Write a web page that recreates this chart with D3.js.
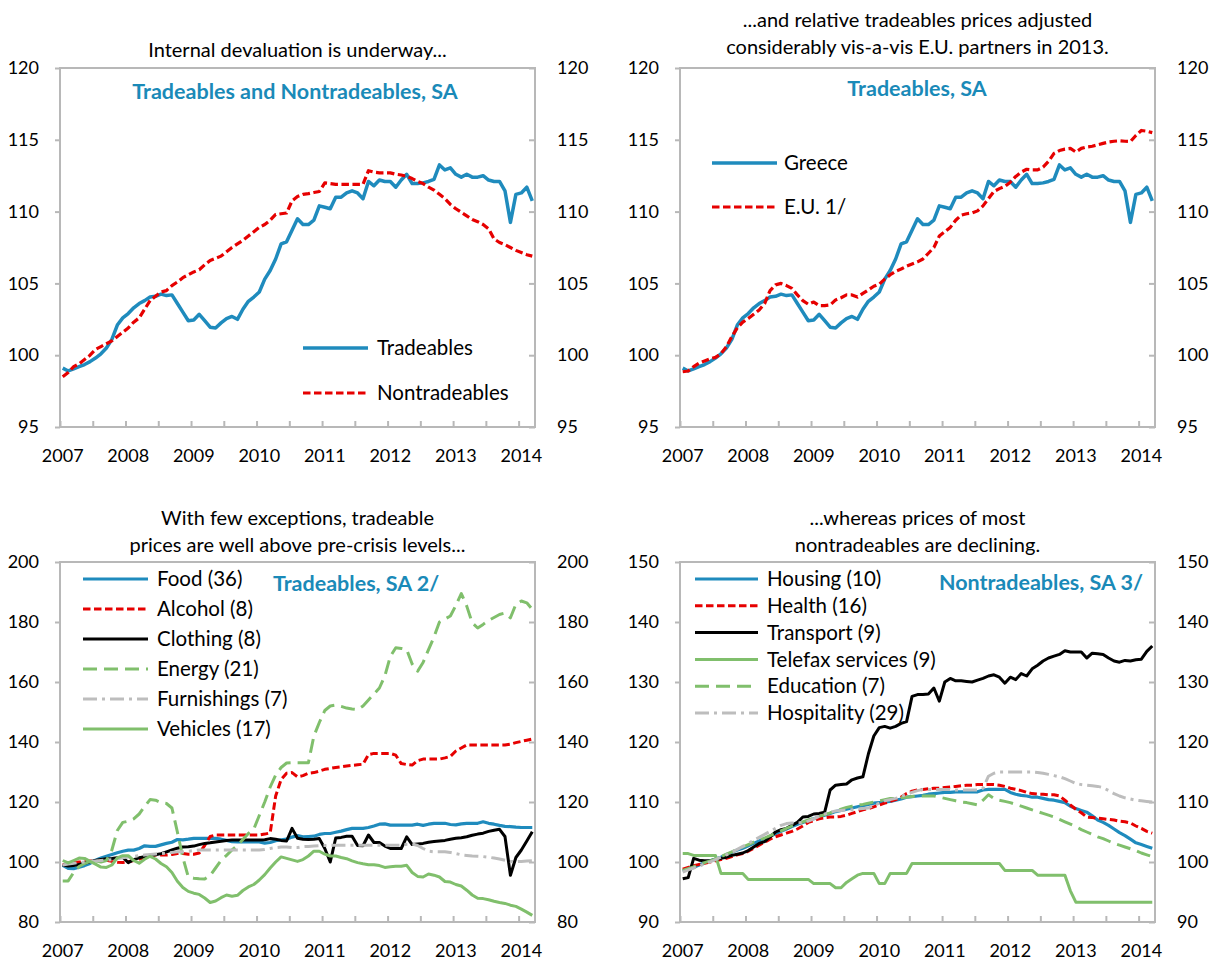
<!DOCTYPE html>
<html>
<head>
<meta charset="utf-8">
<script src="https://cdn.jsdelivr.net/npm/d3@7"></script>
<style>
  body { margin: 0; background: #fff; }
  text { font-family: Lato, "Open Sans", sans-serif; fill: #000; }
</style>
</head>
<body>
<svg id="chart" width="1215" height="964"></svg>
<script>
// monthly data, Jan 2007 - Mar 2014 (87 months)
const yearLabels = ["2007", "2008", "2009", "2010", "2011", "2012", "2013", "2014"];

const tradeables = [
  99.1, 98.9, 99.05, 99.2, 99.35, 99.55, 99.8, 100.1, 100.5, 101.1,
  102.1, 102.6, 102.9, 103.3, 103.6, 103.8, 104.05, 104.1, 104.25, 104.15,
  104.2, 103.6, 103.0, 102.4, 102.45, 102.85, 102.4, 101.95, 101.9, 102.25,
  102.55, 102.7, 102.5, 103.2, 103.75, 104.05, 104.4, 105.3, 105.9, 106.7,
  107.75, 107.9, 108.7, 109.5, 109.1, 109.1, 109.4, 110.4, 110.3, 110.2,
  111.0, 111.0, 111.3, 111.45, 111.3, 110.9, 112.1, 111.8, 112.2, 112.1,
  112.1, 111.7, 112.2, 112.6, 111.95, 111.95, 112.0, 112.1, 112.25, 113.25,
  112.9, 113.05, 112.6, 112.4, 112.6, 112.4, 112.4, 112.5, 112.2, 112.1,
  112.1, 111.45, 109.25, 111.2, 111.3, 111.7, 110.75
];
const nontradeables = [
  98.5, 98.8, 99.2, 99.4, 99.7, 100.0, 100.4, 100.6, 100.8, 101.0,
  101.3, 101.6, 101.9, 102.3, 102.6, 103.2, 103.8, 104.1, 104.4, 104.5,
  104.85, 105.1, 105.4, 105.6, 105.8, 105.95, 106.3, 106.6, 106.75, 106.9,
  107.2, 107.5, 107.75, 108.0, 108.3, 108.6, 108.9, 109.1, 109.4, 109.8,
  109.85, 109.9, 110.75, 111.05, 111.2, 111.25, 111.33, 111.4, 112.0, 111.95,
  111.9, 111.9, 111.9, 111.9, 111.9, 111.9, 112.85, 112.75, 112.7, 112.7,
  112.7, 112.6, 112.55, 112.45, 112.3, 112.1, 111.95, 111.7, 111.5, 111.2,
  110.9, 110.5, 110.2, 109.95, 109.7, 109.45, 109.3, 109.1, 108.8, 108.1,
  107.85, 107.7, 107.5, 107.3, 107.15, 107.0, 106.9
];
const euTradeables = [
  98.85, 98.9, 99.2, 99.45, 99.6, 99.75, 99.85, 100.1, 100.6, 101.3,
  101.9, 102.3, 102.55, 102.85, 103.15, 103.6, 104.5, 104.9, 105.0, 104.85,
  104.65, 104.2, 103.8, 103.55, 103.7, 103.45, 103.45, 103.5, 103.85, 104.0,
  104.2, 104.2, 104.05, 104.3, 104.55, 104.8, 104.95, 105.3, 105.6, 105.85,
  106.0, 106.2, 106.35, 106.5, 106.7, 107.1, 107.5, 108.3, 108.6, 108.9,
  109.4, 109.75, 109.85, 109.9, 110.05, 110.4, 110.9, 111.4, 111.6, 111.75,
  112.05, 112.45, 112.75, 112.95, 112.9, 112.9, 113.1, 113.5, 114.05, 114.25,
  114.35, 114.4, 114.15, 114.4, 114.5, 114.55, 114.65, 114.75, 114.85, 114.9,
  114.93, 114.9, 114.88, 115.3, 115.65, 115.6, 115.5
];

// tradeable components
const food = [
  98.9, 97.9, 97.8, 98.3, 98.8, 99.5, 100.6, 101.3, 101.9, 102.5,
  103.1, 103.6, 103.95, 103.95, 104.5, 105.4, 105.2, 105.2, 105.7, 106.2,
  106.6, 107.5, 107.4, 107.6, 107.85, 107.85, 107.85, 107.85, 107.85, 107.6,
  107.2, 106.8, 106.7, 106.7, 106.7, 106.7, 106.7, 106.3, 106.5, 107.1,
  107.4, 107.6, 108.3, 108.8, 108.4, 108.5, 108.6, 109.2, 109.5, 109.5,
  109.9, 110.3, 110.8, 111.2, 111.2, 111.2, 111.5, 112.0, 112.6, 112.7,
  112.3, 112.3, 112.3, 112.3, 112.3, 112.6, 112.2, 112.6, 112.9, 112.9,
  112.9, 112.5, 112.4, 112.7, 112.9, 112.9, 112.9, 113.4, 112.9, 112.6,
  112.2, 111.9, 111.8, 111.6, 111.5, 111.5, 111.5
];
const alcohol = [
  99.0, 99.5, 99.8, 100.0, 100.1, 100.3, 100.5, 100.6, 100.6, 100.2,
  99.9, 99.8, 100.1, 100.5, 101.0, 101.5, 102.2, 102.3, 102.3, 102.3,
  102.5, 102.8, 102.8, 102.6, 102.6, 103.0, 105.5, 108.5, 109.0, 109.0,
  109.0, 109.0, 109.0, 109.0, 109.0, 109.0, 109.0, 109.3, 109.7, 122.0,
  127.5, 129.6, 129.8, 128.4, 128.8, 129.6, 129.8, 130.3, 130.9, 131.2,
  131.5, 131.7, 132.0, 132.2, 132.4, 132.6, 135.8, 136.2, 136.2, 136.2,
  136.2, 135.6, 132.8, 132.5, 132.3, 133.8, 134.3, 134.3, 134.3, 134.3,
  134.7, 135.2, 137.0, 138.0, 139.0, 139.0, 139.0, 139.0, 139.0, 139.0,
  139.0, 139.0, 139.3, 139.8, 140.2, 140.6, 141.0
];
const clothing = [
  99.0, 98.7, 98.8, 99.2, 99.6, 100.1, 100.5, 100.8, 101.1, 101.2,
  101.4, 101.6, 99.8, 100.8, 101.4, 101.8, 102.1, 102.4, 102.8, 103.4,
  104.0, 104.6, 105.0, 105.1, 105.3, 105.8, 106.2, 106.4, 106.7, 106.9,
  107.2, 107.3, 107.3, 107.3, 107.3, 107.3, 107.3, 107.4, 107.8, 107.6,
  107.2, 107.0, 111.2, 107.9, 107.6, 107.5, 107.6, 107.8, 104.5, 100.0,
  108.0, 108.2, 108.6, 108.6, 105.5, 105.4, 109.0, 106.5, 106.5, 105.3,
  104.5, 104.5, 104.5, 108.4, 105.8, 106.0, 106.2, 106.6, 106.8, 107.0,
  107.2, 107.6, 107.9, 108.1, 108.4, 108.9, 109.3, 109.6, 110.2, 110.6,
  110.9, 108.5, 95.6, 101.5, 104.0, 107.0, 110.1
];
const energy = [
  93.7, 93.7, 96.5, 98.5, 99.5, 100.2, 100.4, 100.0, 100.5, 104.0,
  110.5, 113.2, 113.6, 114.4, 116.0, 118.5, 120.8, 120.6, 119.8, 119.5,
  118.0, 110.0, 101.5, 95.0, 94.6, 94.4, 94.3, 95.5, 98.0, 100.5,
  102.2, 104.0, 105.5, 107.5, 109.5, 111.0, 115.5, 120.0, 125.0, 129.0,
  131.5, 133.0, 133.1, 133.1, 133.1, 133.1, 142.0, 146.5, 150.5, 152.0,
  152.3, 151.9, 151.3, 151.0, 150.8, 152.0, 154.0, 156.0, 158.0, 162.0,
  168.5, 171.4, 171.2, 170.8, 166.0, 163.6, 166.5, 170.8, 175.0, 180.0,
  181.0, 182.0, 185.5, 189.5, 185.3, 179.7, 178.0, 179.2, 180.5, 181.5,
  182.5, 183.0, 181.4, 185.9, 187.0, 186.4, 184.2
];
const furnishings = [
  99.0, 99.3, 99.6, 99.8, 100.0, 100.1, 100.3, 100.5, 100.6, 100.8,
  101.1, 101.4, 101.7, 101.9, 102.1, 102.3, 102.5, 102.7, 102.8, 103.0,
  103.2, 103.4, 103.4, 103.6, 103.8, 104.0, 104.0, 104.0, 104.0, 104.0,
  104.0, 104.0, 104.0, 104.0, 104.0, 104.0, 104.0, 104.2, 104.5, 104.8,
  105.0, 105.0, 104.8, 104.8, 105.1, 105.2, 105.3, 105.4, 105.5, 105.6,
  105.6, 105.6, 105.6, 105.6, 105.6, 105.6, 105.6, 105.6, 105.6, 105.6,
  105.6, 105.6, 105.6, 105.9, 106.0, 105.5, 104.5, 103.6, 103.4, 103.4,
  103.4, 103.2, 102.8, 102.4, 102.2, 102.0, 101.9, 101.8, 101.6, 101.3,
  101.0, 100.6, 100.2, 100.1, 100.2, 100.3, 100.4
];
const vehicles = [
  100.5, 99.7, 100.5, 101.3, 101.2, 100.2, 99.3, 98.3, 98.2, 99.0,
  101.4, 102.1, 102.1, 100.5, 99.6, 100.9, 101.9, 101.0, 99.5, 98.4,
  96.5, 93.6, 91.5, 90.2, 89.6, 89.2, 88.0, 86.5, 87.0, 88.1,
  89.0, 88.6, 88.9, 90.5, 91.7, 92.5, 94.0, 95.8, 98.0, 100.0,
  101.7, 101.2, 100.7, 100.2, 100.8, 102.0, 103.6, 103.6, 102.6, 102.0,
  102.0, 101.5, 101.1, 100.4, 99.8, 99.4, 99.1, 99.1, 98.8, 98.2,
  98.4, 98.6, 98.6, 98.9, 96.5, 95.2, 95.0, 96.0, 95.6, 95.0,
  93.5, 93.3, 92.5, 92.0, 90.6, 89.0, 87.9, 87.8, 87.4, 86.9,
  86.5, 86.2, 85.6, 85.2, 84.3, 83.3, 82.2
];

// nontradeable components
const housing = [
  98.5, 98.8, 99.1, 99.5, 99.9, 100.2, 100.5, 100.8, 101.2, 101.6,
  102.0, 102.3, 102.7, 103.1, 103.5, 103.9, 104.3, 104.7, 105.1, 105.5,
  105.9, 106.3, 106.6, 106.9, 107.2, 107.5, 107.8, 108.1, 108.4, 108.6,
  108.8, 109.0, 109.2, 109.4, 109.6, 109.8, 109.9, 110.0, 110.1, 110.3,
  110.5, 110.8, 110.9, 111.0, 111.1, 111.3, 111.4, 111.5, 111.6, 111.6,
  111.7, 111.7, 111.7, 111.7, 111.7, 112.0, 112.1, 112.1, 112.1, 112.1,
  111.6, 111.3, 111.1, 111.0, 110.8, 110.8, 110.6, 110.4, 110.3, 110.1,
  109.9, 109.3, 108.9, 108.6, 108.3, 107.7, 107.0, 106.6, 106.1, 105.5,
  104.9, 104.4, 103.8, 103.2, 102.9, 102.6, 102.3
];
const health = [
  98.8, 99.1, 99.4, 99.6, 99.8, 100.0, 100.2, 100.4, 100.6, 100.9,
  101.2, 101.4, 101.8, 102.3, 102.8, 103.3, 103.8, 104.2, 104.5, 104.8,
  105.1, 105.5, 106.0, 106.6, 106.9, 107.2, 107.4, 107.5, 107.5, 107.6,
  107.8, 108.1, 108.4, 108.7, 108.9, 109.2, 109.5, 109.8, 110.1, 110.4,
  110.8, 111.4, 111.8, 112.0, 112.1, 112.2, 112.3, 112.3, 112.4, 112.5,
  112.6, 112.7, 112.8, 112.8, 112.9, 112.9, 112.9, 112.9, 112.8, 112.6,
  112.3, 112.1, 111.9, 111.6, 111.4, 111.3, 111.3, 111.2, 111.2, 111.0,
  110.3, 109.5, 108.8, 108.2, 107.5, 107.4, 107.3, 107.2, 107.1, 107.0,
  106.8, 106.7, 106.5, 106.0, 105.6, 105.1, 104.8
];
const transport = [
  97.2, 97.4, 100.6, 100.3, 100.2, 100.2, 100.4, 100.6, 100.8, 101.1,
  101.3, 101.5, 101.9, 102.5, 103.1, 103.4, 104.2, 105.0, 105.4, 105.6,
  106.1, 106.6, 107.5, 107.6, 108.0, 108.1, 108.3, 112.0, 112.8, 112.9,
  113.0, 113.7, 114.0, 114.2, 118.0, 121.0, 122.4, 122.6, 122.3, 122.6,
  123.1, 123.4, 127.6, 127.9, 127.9, 128.0, 129.0, 126.8, 130.0, 130.6,
  130.2, 130.2, 130.1, 130.0, 130.3, 130.6, 131.0, 131.2, 130.8, 129.8,
  130.8, 130.4, 131.4, 131.0, 132.2, 132.8, 133.5, 134.0, 134.3, 134.6,
  135.2, 135.0, 135.0, 135.0, 134.0, 134.8, 134.7, 134.6, 134.0, 133.5,
  133.3, 133.6, 133.5, 133.7, 133.8, 135.1, 136.0
];
const telefax = [
  101.4, 101.4, 101.1, 101.1, 101.1, 101.1, 101.1, 98.1, 98.1, 98.1,
  98.1, 98.1, 97.1, 97.1, 97.1, 97.1, 97.1, 97.1, 97.1, 97.1,
  97.1, 97.1, 97.1, 97.1, 96.4, 96.4, 96.4, 96.4, 95.7, 95.7,
  96.6, 97.2, 97.8, 98.1, 98.1, 98.1, 96.4, 96.4, 98.1, 98.1,
  98.1, 98.1, 99.75, 99.75, 99.75, 99.75, 99.75, 99.75, 99.75, 99.75,
  99.75, 99.75, 99.75, 99.75, 99.75, 99.75, 99.75, 99.75, 99.75, 98.6,
  98.6, 98.6, 98.6, 98.6, 98.6, 97.8, 97.8, 97.8, 97.8, 97.8,
  97.8, 95.2, 93.3, 93.3, 93.3, 93.3, 93.3, 93.3, 93.3, 93.3,
  93.3, 93.3, 93.3, 93.3, 93.3, 93.3, 93.3
];
const education = [
  98.6, 98.9, 99.2, 99.6, 99.9, 100.2, 100.5, 100.9, 101.3, 101.7,
  102.1, 102.5, 102.9, 103.3, 103.7, 104.0, 104.4, 104.8, 105.2, 105.6,
  106.0, 106.3, 106.7, 107.0, 107.3, 107.6, 107.9, 108.2, 108.5, 108.8,
  109.1, 109.3, 109.5, 109.6, 109.8, 110.0, 110.2, 110.4, 110.6, 110.6,
  110.7, 110.8, 110.9, 111.0, 111.0, 111.0, 111.0, 110.8, 110.6, 110.4,
  110.2, 110.0, 109.9, 109.7, 109.5, 110.3, 111.2, 110.6, 110.3, 110.1,
  109.9, 109.6, 109.3, 109.0, 108.7, 108.4, 108.1, 107.8, 107.5, 107.1,
  106.7, 106.3, 105.9, 105.4, 105.0, 104.6, 104.2, 103.9, 103.5, 103.1,
  102.8, 102.5, 102.2, 101.9, 101.5, 101.2, 100.9
];
const hospitality = [
  98.3, 98.7, 99.0, 99.3, 99.7, 100.0, 100.4, 100.8, 101.2, 101.6,
  102.1, 102.6, 103.1, 103.6, 104.1, 104.6, 105.1, 105.6, 106.1, 106.4,
  106.5, 106.5, 106.6, 106.8, 107.2, 107.6, 108.0, 108.3, 108.5, 108.6,
  108.7, 108.7, 108.8, 108.9, 109.0, 109.4, 109.8, 110.2, 110.4, 110.6,
  110.9, 111.3, 111.6, 111.9, 112.1, 112.1, 112.1, 112.1, 112.1, 112.1,
  112.0, 112.0, 112.0, 112.0, 112.0, 112.3, 114.3, 114.8, 115.0, 115.0,
  115.0, 115.0, 115.0, 115.0, 115.0, 114.9, 114.8, 114.6, 114.4, 114.2,
  113.9, 113.5, 113.1, 112.9, 112.8, 112.7, 112.6, 112.4, 111.9, 111.4,
  111.0, 110.7, 110.5, 110.3, 110.2, 110.1, 110.0
];

const blue = "#1f8bbd", red = "#e60000", green = "#80bf6c", gray = "#bdbdbd";
const solid = null, dashed = "7.5,3.5", longDash = "14,7", dashDot = "14,5,3,5";

const panels = [
  {
    left: 60, right: 535, top: 68, bottom: 427,
    yDomain: [95, 120], yTicks: d3.range(95, 121, 5),
    title: ["Internal devaluation is underway..."], titleY: 57,
    subtitle: "Tradeables and Nontradeables, SA", subX: 295, subY: 99, subAnchor: "middle",
    legend: { x1: 303, x2: 368, tx: 377, y: 348, step: 45 },
    series: [
      { name: "Tradeables", values: tradeables, color: blue, dash: solid, width: 3.5 },
      { name: "Nontradeables", values: nontradeables, color: red, dash: dashed, width: 3.2 }
    ]
  },
  {
    left: 680, right: 1155, top: 68, bottom: 427,
    yDomain: [95, 120], yTicks: d3.range(95, 121, 5),
    title: ["...and relative tradeables prices adjusted", "considerably vis-a-vis E.U. partners in 2013."], titleY: 27,
    subtitle: "Tradeables, SA", subX: 917, subY: 96, subAnchor: "middle",
    legend: { x1: 712, x2: 777, tx: 784, y: 163, step: 44 },
    series: [
      { name: "Greece", values: tradeables, color: blue, dash: solid, width: 3.5 },
      { name: "E.U. 1/", values: euTradeables, color: red, dash: dashed, width: 3.2 }
    ]
  },
  {
    left: 60, right: 535, top: 562, bottom: 922,
    yDomain: [80, 200], yTicks: d3.range(80, 201, 20),
    title: ["With few exceptions, tradeable", "prices are well above pre-crisis levels..."], titleY: 525,
    subtitle: "Tradeables, SA 2/", subX: 273, subY: 591, subAnchor: "start",
    legend: { x1: 83, x2: 148, tx: 157, y: 579, step: 30 },
    series: [
      { name: "Food (36)", values: food, color: blue, dash: solid, width: 3.2 },
      { name: "Alcohol (8)", values: alcohol, color: red, dash: dashed, width: 3 },
      { name: "Clothing (8)", values: clothing, color: "#000", dash: solid, width: 3 },
      { name: "Energy (21)", values: energy, color: green, dash: longDash, width: 3 },
      { name: "Furnishings (7)", values: furnishings, color: gray, dash: dashDot, width: 3 },
      { name: "Vehicles (17)", values: vehicles, color: green, dash: solid, width: 3 }
    ]
  },
  {
    left: 680, right: 1155, top: 562, bottom: 922,
    yDomain: [90, 150], yTicks: d3.range(90, 151, 10),
    title: ["...whereas prices of most", "nontradeables are declining."], titleY: 525,
    subtitle: "Nontradeables, SA 3/", subX: 1143, subY: 590, subAnchor: "end",
    legend: { x1: 695, x2: 758, tx: 767, y: 579, step: 26.8 },
    series: [
      { name: "Housing (10)", values: housing, color: blue, dash: solid, width: 3.2 },
      { name: "Health (16)", values: health, color: red, dash: dashed, width: 3 },
      { name: "Transport (9)", values: transport, color: "#000", dash: solid, width: 3 },
      { name: "Telefax services (9)", values: telefax, color: green, dash: solid, width: 3 },
      { name: "Education (7)", values: education, color: green, dash: longDash, width: 3 },
      { name: "Hospitality (29)", values: hospitality, color: gray, dash: dashDot, width: 3 }
    ]
  }
];

const svg = d3.select("#chart");
const nMonths = tradeables.length;

panels.forEach(p => {
  const g = svg.append("g");

  // month index -> x (band edges), points sit in the middle of each month
  const x = d3.scaleLinear().domain([0, nMonths]).range([p.left, p.right]);
  const y = d3.scaleLinear().domain(p.yDomain).range([p.bottom, p.top]);

  // titles
  const cx = (p.left + p.right) / 2;
  p.title.forEach((t, i) => {
    g.append("text")
      .attr("x", cx).attr("y", p.titleY + i * 27)
      .attr("text-anchor", "middle")
      .style("font-size", "20px")
      .text(t);
  });

  // frame
  g.append("rect")
    .attr("x", p.left).attr("y", p.top)
    .attr("width", p.right - p.left).attr("height", p.bottom - p.top)
    .attr("fill", "none").attr("stroke", "#b8b8b8").attr("stroke-width", 2);

  // left axis
  const la = g.append("g").attr("transform", `translate(${p.left},0)`)
    .call(d3.axisLeft(y).tickValues(p.yTicks).tickSize(5).tickPadding(16));
  // right axis
  const ra = g.append("g").attr("transform", `translate(${p.right},0)`)
    .call(d3.axisRight(y).tickValues(p.yTicks).tickSize(-6).tickPadding(22));
  // bottom ticks every 6 months
  const ba = g.append("g").attr("transform", `translate(0,${p.bottom})`)
    .call(d3.axisBottom(x).tickValues(d3.range(0, nMonths, 6)).tickSize(-6).tickFormat(""));

  [la, ra, ba].forEach(a => {
    a.select(".domain").remove();
    a.selectAll(".tick line").attr("stroke", "#b8b8b8").attr("stroke-width", 2);
    a.selectAll(".tick text").style("font-size", "18px").style("font-family", "Lato, 'Open Sans', sans-serif").attr("fill", "#000");
  });

  // year labels
  g.selectAll("text.year")
    .data(yearLabels)
    .enter().append("text")
    .attr("class", "year")
    .attr("x", (d, i) => x(i * 12 + 0.5))
    .attr("y", p.bottom + 29)
    .attr("dy", "0.35em")
    .attr("text-anchor", "middle")
    .style("font-size", "18px")
    .text(d => d);

  // lines
  const line = d3.line()
    .x((d, i) => x(i + 0.5))
    .y(d => y(d));

  g.selectAll("path.series")
    .data(p.series)
    .enter().append("path")
    .attr("class", "series")
    .attr("d", d => line(d.values))
    .attr("fill", "none")
    .attr("stroke", d => d.color)
    .attr("stroke-width", d => d.width)
    .attr("stroke-dasharray", d => d.dash)
    .attr("stroke-linejoin", "round");

  // subtitle
  g.append("text")
    .attr("x", p.subX).attr("y", p.subY)
    .attr("text-anchor", p.subAnchor)
    .style("font-size", "21.5px")
    .style("font-weight", "bold")
    .style("fill", "#1a8ab8")
    .text(p.subtitle);

  // legend
  const lg = g.selectAll("g.legend")
    .data(p.series)
    .enter().append("g")
    .attr("class", "legend")
    .attr("transform", (d, i) => `translate(0,${p.legend.y + i * p.legend.step})`);
  lg.append("line")
    .attr("x1", p.legend.x1).attr("x2", p.legend.x2)
    .attr("stroke", d => d.color)
    .attr("stroke-width", d => d.width)
    .attr("stroke-dasharray", d => d.dash);
  lg.append("text")
    .attr("x", p.legend.tx)
    .attr("dy", "0.35em")
    .style("font-size", "20.5px")
    .text(d => d.name);
});
</script>
</body>
</html>
